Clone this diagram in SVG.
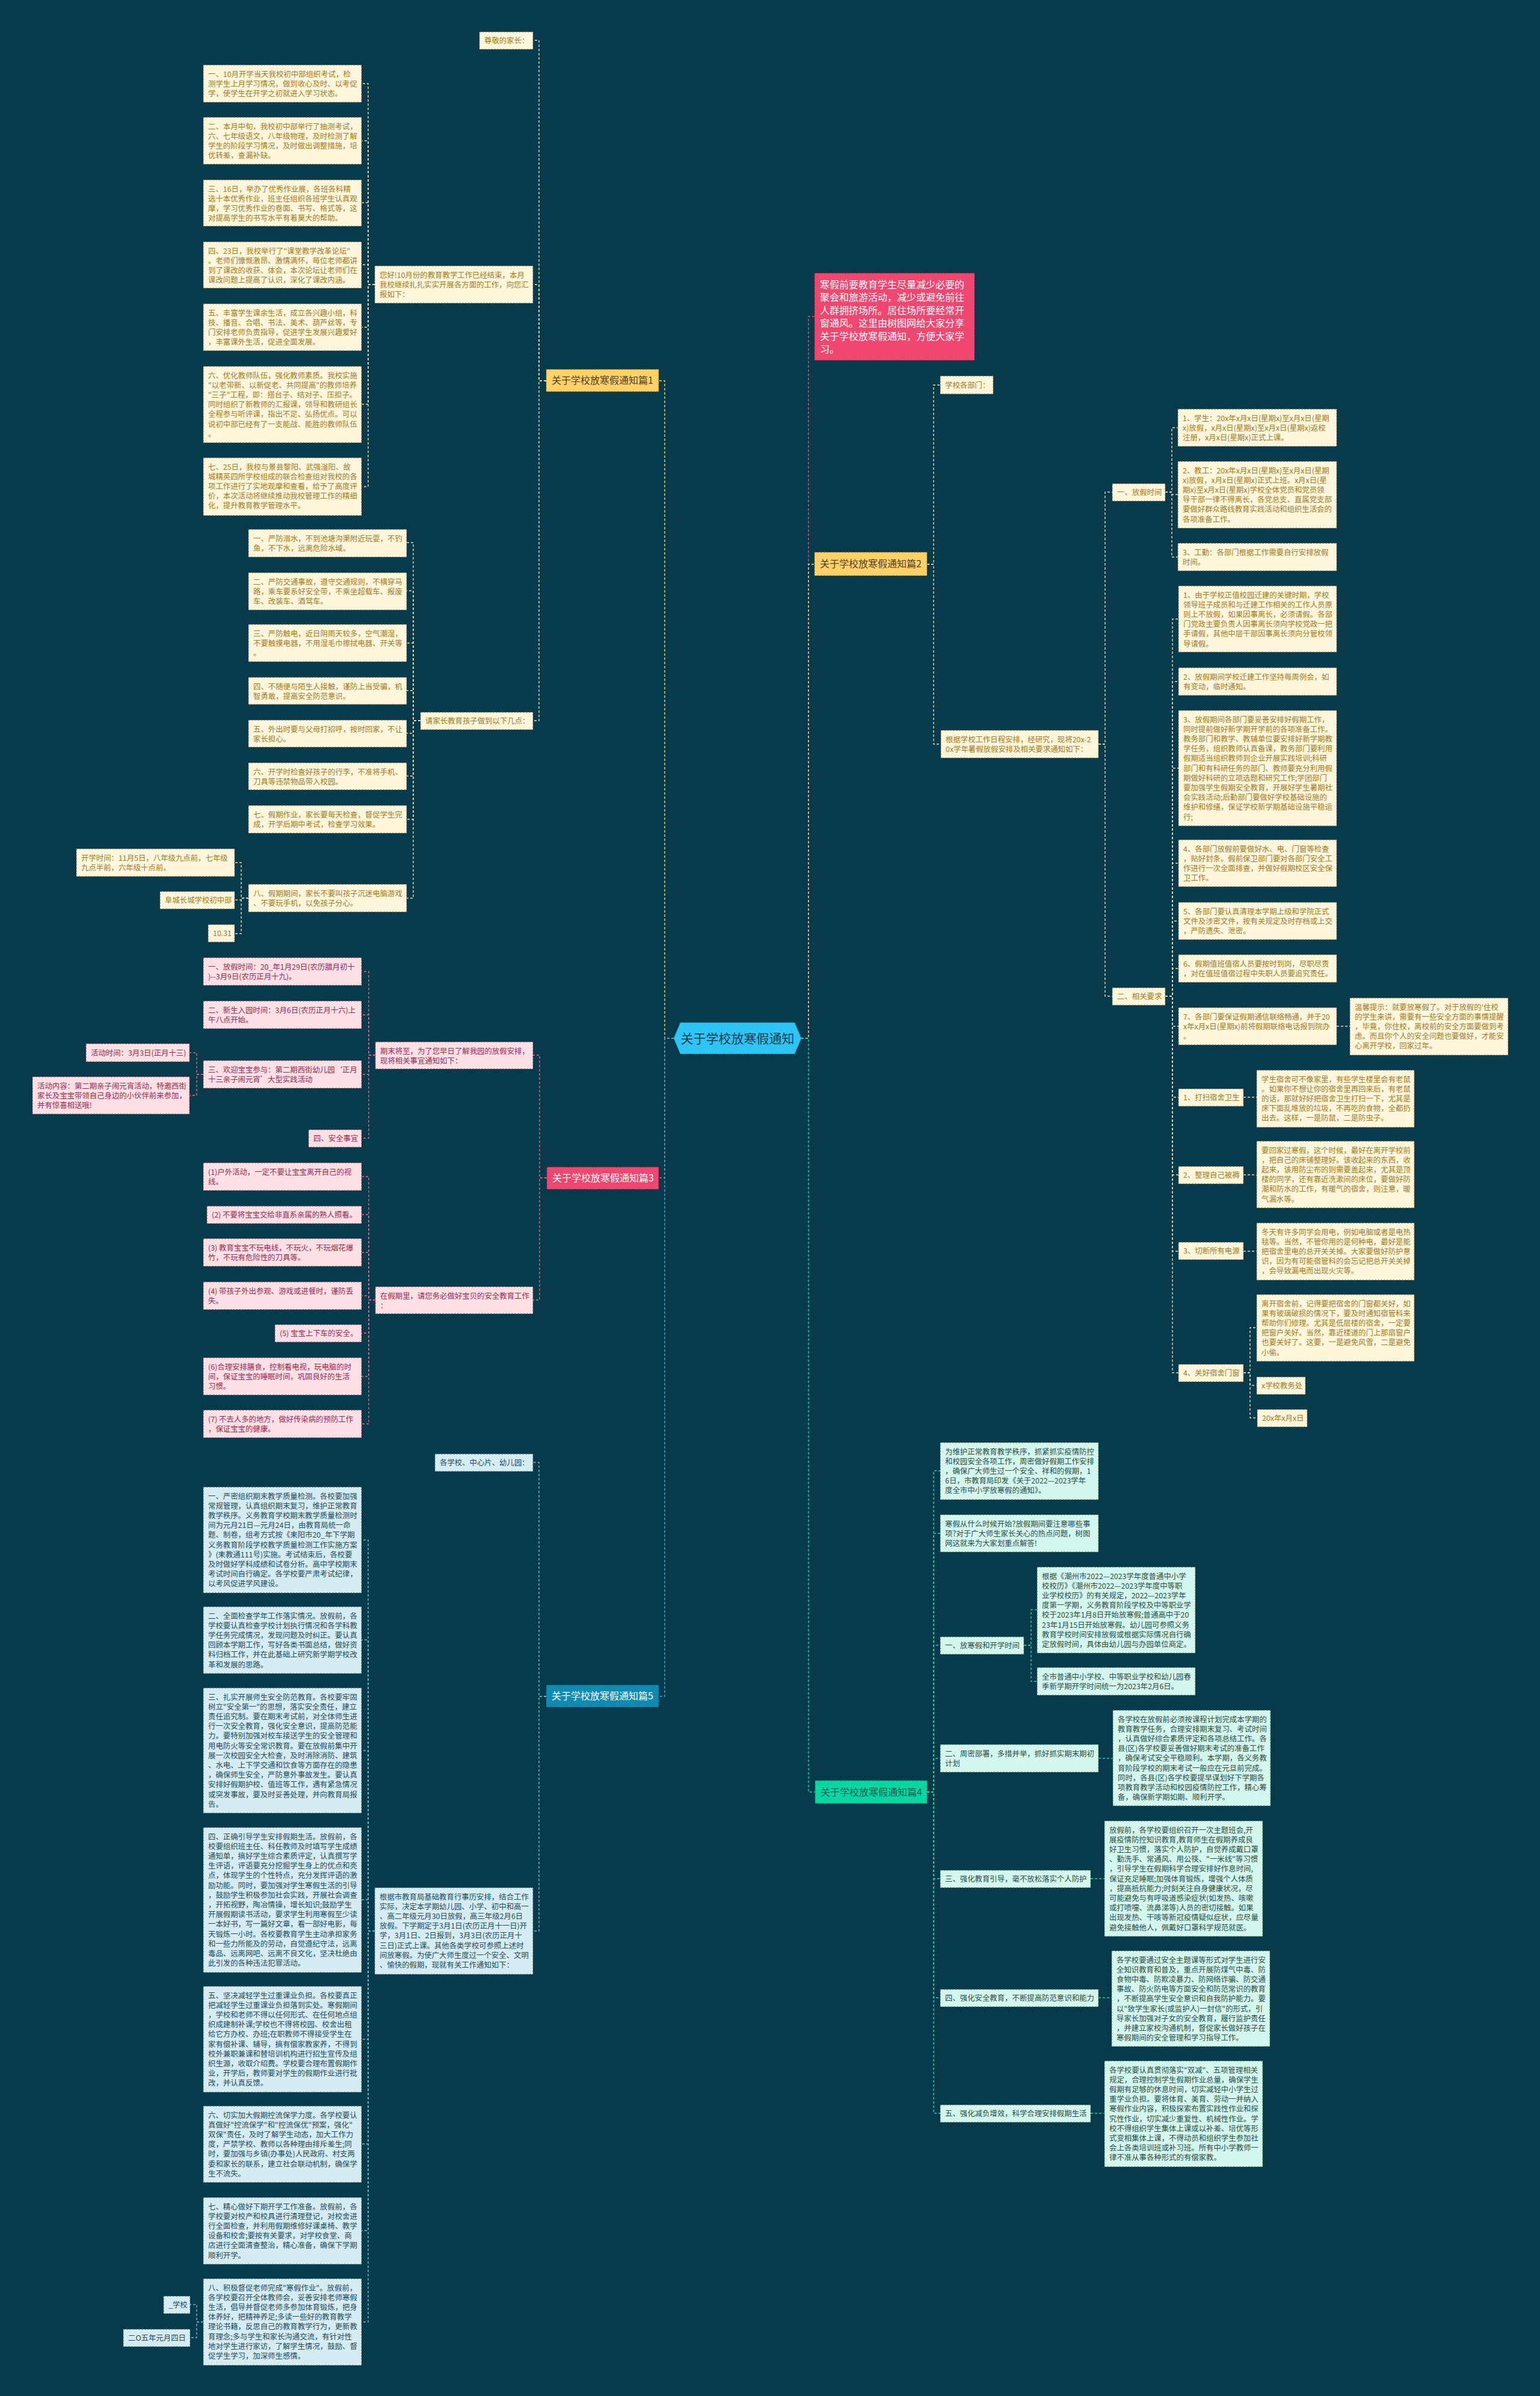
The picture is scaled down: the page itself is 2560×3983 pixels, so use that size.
<svg xmlns="http://www.w3.org/2000/svg" width="2560" height="3983" viewBox="0 0 2560 3983">
<style>
text{font-family:"Noto Sans CJK SC","Noto Sans",sans-serif;font-size:12.4px}
rect{stroke-width:1;stroke-dasharray:3 2}
.c rect{fill:#FFF6DC;stroke:#6e6446}
.c text{fill:#A27A22}
.p rect{fill:#FDDFE6;stroke:#7a4a58}
.p text{fill:#9B2B4B}
.b rect{fill:#D5ECF3;stroke:#4a6470}
.b text{fill:#214B5C}
.m rect{fill:#D4F7ED;stroke:#3f6a60}
.m text{fill:#2A4C45}
.br text{font-size:16px}
.by rect{fill:#FFD166;stroke:#8a6d20}
.by text{fill:#4a4030}
.bp rect{fill:#EF476F;stroke:#8a2040}
.bp text{fill:#ffffff}
.bb rect{fill:#118AB2;stroke:#0a4f66}
.bb text{fill:#ffffff}
.bm rect{fill:#06D6A0;stroke:#067a5c}
.bm text{fill:#1d5c4c}
.lc,.lp,.lb,.lm,.ly,.lpk,.lbl,.ltl{fill:none;stroke-width:1.4;stroke-dasharray:4 3}
.lc{stroke:#EADBA8}
.lp{stroke:#E2668A}
.lb{stroke:#6FB7D2}
.lm{stroke:#33CC9E}
.ly{stroke:#FFD166}
.lpk{stroke:#EF476F}
.lbl{stroke:#3FA7CC}
.ltl{stroke:#06D6A0}
</style>
<rect x="0" y="0" width="2560" height="3983" fill="#073B4C" style="stroke:none"/>

<g id="connectors">
<!-- trunks -->
<path class="ly" d="M1120 1726 H1105 V633 H1095"/>
<path class="lpk" d="M1120 1726 H1105 V1958 H1095"/>
<path class="lbl" d="M1120 1726 H1105 V2820 H1095"/>
<path class="lpk" d="M1332 1726 H1344 V526 H1354"/>
<path class="ly" d="M1332 1726 H1344 V938 H1354"/>
<path class="ltl" d="M1332 1726 H1344 V2979 H1355"/>
<!-- 篇1 -->
<path class="lc" d="M908 633 H896 V67 H886"/>
<path class="lc" d="M908 633 H896 V473 H886"/>
<path class="lc" d="M908 633 H896 V1198 H886"/>
<path class="lc" d="M623 473 H612 V139 H601"/>
<path class="lc" d="M623 473 H612 V234 H601"/>
<path class="lc" d="M623 473 H612 V337 H601"/>
<path class="lc" d="M623 473 H612 V440 H601"/>
<path class="lc" d="M623 473 H612 V544 H601"/>
<path class="lc" d="M623 473 H612 V672 H601"/>
<path class="lc" d="M623 473 H612 V809 H601"/>
<path class="lc" d="M699 1198 H687 V902 H676"/>
<path class="lc" d="M699 1198 H687 V982 H676"/>
<path class="lc" d="M699 1198 H687 V1069 H676"/>
<path class="lc" d="M699 1198 H687 V1148 H676"/>
<path class="lc" d="M699 1198 H687 V1219 H676"/>
<path class="lc" d="M699 1198 H687 V1290 H676"/>
<path class="lc" d="M699 1198 H687 V1362 H676"/>
<path class="lc" d="M699 1198 H687 V1493 H676"/>
<path class="lc" d="M413 1493 H401 V1434 H390"/>
<path class="lc" d="M413 1493 H401 V1496 H390"/>
<path class="lc" d="M413 1493 H401 V1552 H390"/>
<!-- 篇3 -->
<path class="lp" d="M909 1958 H897 V1754 H886"/>
<path class="lp" d="M909 1958 H897 V2161 H886"/>
<path class="lp" d="M624 1754 H613 V1615 H601"/>
<path class="lp" d="M624 1754 H613 V1687 H601"/>
<path class="lp" d="M624 1754 H613 V1786 H601"/>
<path class="lp" d="M624 1754 H613 V1892 H601"/>
<path class="lp" d="M338 1786 H327 V1750 H315"/>
<path class="lp" d="M338 1786 H327 V1821 H315"/>
<path class="lp" d="M624 2161 H613 V1956 H601"/>
<path class="lp" d="M624 2161 H613 V2019 H601"/>
<path class="lp" d="M624 2161 H613 V2082 H601"/>
<path class="lp" d="M624 2161 H613 V2154 H601"/>
<path class="lp" d="M624 2161 H613 V2216 H601"/>
<path class="lp" d="M624 2161 H613 V2288 H601"/>
<path class="lp" d="M624 2161 H613 V2367 H601"/>
<!-- 篇5 -->
<path class="lb" d="M908 2820 H896 V2431 H886"/>
<path class="lb" d="M908 2820 H896 V3210 H886"/>
<path class="lb" d="M623 3210 H612 V2560 H601"/>
<path class="lb" d="M623 3210 H612 V2726 H601"/>
<path class="lb" d="M623 3210 H612 V2910 H601"/>
<path class="lb" d="M623 3210 H612 V3158 H601"/>
<path class="lb" d="M623 3210 H612 V3390 H601"/>
<path class="lb" d="M623 3210 H612 V3564 H601"/>
<path class="lb" d="M623 3210 H612 V3708 H601"/>
<path class="lb" d="M623 3210 H612 V3860 H601"/>
<path class="lb" d="M338 3860 H327 V3831 H316"/>
<path class="lb" d="M338 3860 H327 V3886 H316"/>
<!-- 篇2 -->
<path class="lc" d="M1541 938 H1552 V640 H1563"/>
<path class="lc" d="M1541 938 H1552 V1237 H1564"/>
<path class="lc" d="M1826 1237 H1837 V818 H1849"/>
<path class="lc" d="M1826 1237 H1837 V1656 H1849"/>
<path class="lc" d="M1937 818 H1948 V711 H1958"/>
<path class="lc" d="M1937 818 H1948 V822 H1958"/>
<path class="lc" d="M1937 818 H1948 V926 H1958"/>
<path class="lc" d="M1937 1656 H1949 V1029 H1959"/>
<path class="lc" d="M1937 1656 H1949 V1133 H1959"/>
<path class="lc" d="M1937 1656 H1949 V1277 H1959"/>
<path class="lc" d="M1937 1656 H1949 V1435 H1959"/>
<path class="lc" d="M1937 1656 H1949 V1531 H1959"/>
<path class="lc" d="M1937 1656 H1949 V1610 H1959"/>
<path class="lc" d="M1937 1656 H1949 V1706 H1959"/>
<path class="lc" d="M1937 1656 H1949 V1824 H1959"/>
<path class="lc" d="M1937 1656 H1949 V1953 H1959"/>
<path class="lc" d="M1937 1656 H1949 V2080 H1959"/>
<path class="lc" d="M1937 1656 H1949 V2282 H1959"/>
<path class="lc" d="M2222 1706 H2244"/>
<path class="lc" d="M2067 1824 H2089"/>
<path class="lc" d="M2067 1953 H2089"/>
<path class="lc" d="M2067 2080 H2089"/>
<path class="lc" d="M2067 2282 H2078 V2207 H2089"/>
<path class="lc" d="M2067 2282 H2078 V2303 H2089"/>
<path class="lc" d="M2067 2282 H2078 V2357 H2090"/>
<!-- 篇4 -->
<path class="lm" d="M1541 2979 H1552 V2445 H1563"/>
<path class="lm" d="M1541 2979 H1552 V2549 H1563"/>
<path class="lm" d="M1541 2979 H1552 V2735 H1563"/>
<path class="lm" d="M1541 2979 H1552 V2923 H1563"/>
<path class="lm" d="M1541 2979 H1552 V3123 H1563"/>
<path class="lm" d="M1541 2979 H1552 V3321 H1563"/>
<path class="lm" d="M1541 2979 H1552 V3513 H1563"/>
<path class="lm" d="M1702 2735 H1714 V2676 H1724"/>
<path class="lm" d="M1702 2735 H1714 V2795 H1724"/>
<path class="lm" d="M1826 2923 H1850"/>
<path class="lm" d="M1813 3123 H1836"/>
<path class="lm" d="M1826 3321 H1848"/>
<path class="lm" d="M1813 3513 H1836"/>
</g>

<!-- hub -->
<g id="hub">
<polygon points="1131,1700 1321,1700 1332,1726 1321,1752 1131,1752 1120,1726" fill="#2CC5F4" stroke="#1a8fb5" stroke-width="1" stroke-dasharray="3 2"/>
<text x="1226" y="1733.5" text-anchor="middle" style="font-size:21px;fill:#1d3a4a">关于学校放寒假通知</text>
</g>

<!-- 篇1 -->
<g id="p1" class="br by"><rect x="908" y="614" width="187" height="37"/><text x="917" y="638">关于学校放寒假通知篇1</text></g>
<g id="n-zjjz" class="c"><rect x="797" y="53" width="89" height="29"/><text x="805" y="72">尊敬的家长：</text></g>
<g id="n-nh" class="c"><rect x="623" y="442" width="263" height="62"/><text x="631" y="461.5"><tspan x="631">您好!10月份的教育教学工作已经结束，本月</tspan><tspan x="631" dy="16.2">我校继续扎扎实实开展各方面的工作，向您汇</tspan><tspan x="631" dy="16.2">报如下：</tspan></text></g>
<g id="n-p1-1" class="c"><rect x="338" y="108" width="263" height="62"/><text x="346" y="127.5"><tspan x="346">一、10月开学当天我校初中部组织考试，检</tspan><tspan x="346" dy="16.2">测学生上月学习情况，做到收心及时、以考促</tspan><tspan x="346" dy="16.2">学，使学生在开学之初就进入学习状态。</tspan></text></g>
<g id="n-p1-2" class="c"><rect x="338" y="195" width="263" height="78"/><text x="346" y="214.5"><tspan x="346">二、本月中旬，我校初中部举行了抽测考试，</tspan><tspan x="346" dy="16.2">六、七年级语文，八年级物理，及时检测了解</tspan><tspan x="346" dy="16.2">学生的阶段学习情况，及时做出调整措施，培</tspan><tspan x="346" dy="16.2">优转差，查漏补缺。</tspan></text></g>
<g id="n-p1-3" class="c"><rect x="338" y="299" width="263" height="77"/><text x="346" y="318.5"><tspan x="346">三、16日，举办了优秀作业展，各班各科精</tspan><tspan x="346" dy="16.2">选十本优秀作业，班主任组织各班学生认真观</tspan><tspan x="346" dy="16.2">摩，学习优秀作业的卷面、书写、格式等，这</tspan><tspan x="346" dy="16.2">对提高学生的书写水平有着莫大的帮助。</tspan></text></g>
<g id="n-p1-4" class="c"><rect x="338" y="402" width="263" height="77"/><text x="346" y="421.5"><tspan x="346">四、23日，我校举行了"课堂教学改革论坛"</tspan><tspan x="346" dy="16.2">。老师们慷慨激昂、激情满怀，每位老师都讲</tspan><tspan x="346" dy="16.2">到了课改的收获、体会，本次论坛让老师们在</tspan><tspan x="346" dy="16.2">课改问题上提高了认识，深化了课改内涵。</tspan></text></g>
<g id="n-p1-5" class="c"><rect x="338" y="505" width="263" height="78"/><text x="346" y="524.5"><tspan x="346">五、丰富学生课余生活，成立各兴趣小组，科</tspan><tspan x="346" dy="16.2">技、播音、合唱、书法、美术、葫芦丝等，专</tspan><tspan x="346" dy="16.2">门安排老师负责指导，促进学生发展兴趣爱好</tspan><tspan x="346" dy="16.2">，丰富课外生活，促进全面发展。</tspan></text></g>
<g id="n-p1-6" class="c"><rect x="338" y="609" width="263" height="127"/><text x="346" y="628.5"><tspan x="346">六、优化教师队伍，强化教师素质。我校实施</tspan><tspan x="346" dy="16.2">"以老带新、以新促老、共同提高"的教师培养</tspan><tspan x="346" dy="16.2">"三子"工程，即：搭台子、结对子、压担子。</tspan><tspan x="346" dy="16.2">同时组织了新教师的汇报课，领导和教研组长</tspan><tspan x="346" dy="16.2">全程参与听评课，指出不足、弘扬优点。可以</tspan><tspan x="346" dy="16.2">说初中部已经有了一支能战、能胜的教师队伍</tspan><tspan x="346" dy="16.2">。</tspan></text></g>
<g id="n-p1-7" class="c"><rect x="338" y="761" width="263" height="96"/><text x="346" y="780.5"><tspan x="346">七、25日，我校与景县黎阳、武强滏阳、故</tspan><tspan x="346" dy="16.2">城精英四所学校组成的联合检查组对我校的各</tspan><tspan x="346" dy="16.2">项工作进行了实地观摩和查看，给予了高度评</tspan><tspan x="346" dy="16.2">价，本次活动将继续推动我校管理工作的精细</tspan><tspan x="346" dy="16.2">化，提升教育教学管理水平。</tspan></text></g>
<g id="n-qjz" class="c"><rect x="699" y="1184" width="187" height="29"/><text x="707" y="1203">请家长教育孩子做到以下几点：</text></g>
<g id="n-s1" class="c"><rect x="413" y="880" width="263" height="46"/><text x="421" y="899.5"><tspan x="421">一、严防溺水，不到池塘沟渠附近玩耍，不钓</tspan><tspan x="421" dy="16.2">鱼，不下水，远离危险水域。</tspan></text></g>
<g id="n-s2" class="c"><rect x="413" y="952" width="263" height="62"/><text x="421" y="971.5"><tspan x="421">二、严防交通事故，遵守交通规则，不横穿马</tspan><tspan x="421" dy="16.2">路，乘车要系好安全带，不乘坐超载车、报废</tspan><tspan x="421" dy="16.2">车、改装车、酒驾车。</tspan></text></g>
<g id="n-s3" class="c"><rect x="413" y="1038" width="263" height="62"/><text x="421" y="1057.5"><tspan x="421">三、严防触电，近日阴雨天较多，空气潮湿，</tspan><tspan x="421" dy="16.2">不要触摸电器，不用湿毛巾擦拭电器、开关等</tspan><tspan x="421" dy="16.2">。</tspan></text></g>
<g id="n-s4" class="c"><rect x="413" y="1126" width="263" height="45"/><text x="421" y="1145.5"><tspan x="421">四、不随便与陌生人接触，谨防上当受骗，机</tspan><tspan x="421" dy="16.2">智勇敢，提高安全防范意识。</tspan></text></g>
<g id="n-s5" class="c"><rect x="413" y="1197" width="263" height="45"/><text x="421" y="1216.5"><tspan x="421">五、外出时要与父母打招呼，按时回家，不让</tspan><tspan x="421" dy="16.2">家长担心。</tspan></text></g>
<g id="n-s6" class="c"><rect x="413" y="1268" width="263" height="45"/><text x="421" y="1287.5"><tspan x="421">六、开学时检查好孩子的行李，不准将手机、</tspan><tspan x="421" dy="16.2">刀具等违禁物品带入校园。</tspan></text></g>
<g id="n-s7" class="c"><rect x="413" y="1339" width="263" height="46"/><text x="421" y="1358.5"><tspan x="421">七、假期作业，家长要每天检查，督促学生完</tspan><tspan x="421" dy="16.2">成，开学后期中考试，检查学习效果。</tspan></text></g>
<g id="n-s8" class="c"><rect x="413" y="1470" width="263" height="46"/><text x="421" y="1489.5"><tspan x="421">八、假期期间，家长不要叫孩子沉迷电脑游戏</tspan><tspan x="421" dy="16.2">、不要玩手机，以免孩子分心。</tspan></text></g>
<g id="n-kx" class="c"><rect x="127" y="1411" width="263" height="46"/><text x="135" y="1430.5"><tspan x="135">开学时间：11月5日，八年级九点前，七年级</tspan><tspan x="135" dy="16.2">九点半前，六年级十点前。</tspan></text></g>
<g id="n-fc" class="c"><rect x="266" y="1482" width="124" height="29"/><text x="274" y="1501">阜城长城学校初中部</text></g>
<g id="n-d1031" class="c"><rect x="346" y="1537" width="44" height="29"/><text x="354" y="1556">10.31</text></g>

<!-- 篇3 -->
<g id="p3" class="br bp"><rect x="909" y="1940" width="186" height="37"/><text x="918" y="1964">关于学校放寒假通知篇3</text></g>
<g id="n-qmjz" class="p"><rect x="624" y="1732" width="262" height="45"/><text x="632" y="1751.5"><tspan x="632">期末将至，为了您早日了解我园的放假安排，</tspan><tspan x="632" dy="16.2">现将相关事宜通知如下：</tspan></text></g>
<g id="n-a1" class="p"><rect x="338" y="1592" width="263" height="46"/><text x="346" y="1611.5"><tspan x="346">一、放假时间：20_年1月29日(农历腊月初十</tspan><tspan x="346" dy="16.2">)--3月9日(农历正月十九)。</tspan></text></g>
<g id="n-a2" class="p"><rect x="338" y="1664" width="263" height="46"/><text x="346" y="1683.5"><tspan x="346">二、新生入园时间：3月6日(农历正月十六)上</tspan><tspan x="346" dy="16.2">午八点开始。</tspan></text></g>
<g id="n-a3" class="p"><rect x="338" y="1763" width="263" height="46"/><text x="346" y="1782.5"><tspan x="346">三、欢迎宝宝参与：第二期西街幼儿园‘正月</tspan><tspan x="346" dy="16.2">十三亲子闹元宵’大型实践活动</tspan></text></g>
<g id="n-a4" class="p"><rect x="513" y="1878" width="88" height="29"/><text x="521" y="1897">四、安全事宜</text></g>
<g id="n-hd1" class="p"><rect x="143" y="1735" width="172" height="30"/><text x="151" y="1754.5">活动时间：3月3日(正月十三)</text></g>
<g id="n-hd2" class="p"><rect x="54" y="1790" width="261" height="62"/><text x="62" y="1809.5"><tspan x="62">活动内容：第二期亲子闹元宵活动，特邀西街</tspan><tspan x="62" dy="16.2">家长及宝宝带领自己身边的小伙伴前来参加，</tspan><tspan x="62" dy="16.2">并有惊喜相送哦!</tspan></text></g>
<g id="n-zjql" class="p"><rect x="624" y="2139" width="262" height="45"/><text x="632" y="2158.5"><tspan x="632">在假期里，请您务必做好宝贝的安全教育工作</tspan><tspan x="632" dy="16.2">：</tspan></text></g>
<g id="n-b1" class="p"><rect x="338" y="1933" width="263" height="46"/><text x="346" y="1952.5"><tspan x="346">(1)户外活动，一定不要让宝宝离开自己的视</tspan><tspan x="346" dy="16.2">线。</tspan></text></g>
<g id="n-b2" class="p"><rect x="344" y="2005" width="257" height="29"/><text x="352" y="2024">(2) 不要将宝宝交给非直系亲属的熟人照看。</text></g>
<g id="n-b3" class="p"><rect x="338" y="2059" width="263" height="46"/><text x="346" y="2078.5"><tspan x="346">(3) 教育宝宝不玩电线，不玩火，不玩烟花爆</tspan><tspan x="346" dy="16.2">竹，不玩有危险性的刀具等。</tspan></text></g>
<g id="n-b4" class="p"><rect x="338" y="2131" width="263" height="46"/><text x="346" y="2150.5"><tspan x="346">(4) 带孩子外出参观、游戏或进餐时，谨防丢</tspan><tspan x="346" dy="16.2">失。</tspan></text></g>
<g id="n-b5" class="p"><rect x="457" y="2202" width="144" height="29"/><text x="465" y="2221">(5) 宝宝上下车的安全。</text></g>
<g id="n-b6" class="p"><rect x="338" y="2257" width="263" height="62"/><text x="346" y="2276.5"><tspan x="346">(6)合理安排膳食，控制看电视，玩电脑的时</tspan><tspan x="346" dy="16.2">间，保证宝宝的睡眠时间，巩固良好的生活</tspan><tspan x="346" dy="16.2">习惯。</tspan></text></g>
<g id="n-b7" class="p"><rect x="338" y="2344" width="263" height="46"/><text x="346" y="2363.5"><tspan x="346">(7) 不去人多的地方，做好传染病的预防工作</tspan><tspan x="346" dy="16.2">，保证宝宝的健康。</tspan></text></g>

<!-- 篇5 -->
<g id="p5" class="br bb"><rect x="908" y="2801" width="187" height="37"/><text x="917" y="2825">关于学校放寒假通知篇5</text></g>
<g id="n-gxx" class="b"><rect x="723" y="2417" width="163" height="29"/><text x="731" y="2436">各学校、中心片、幼儿园：</text></g>
<g id="n-gjs" class="b"><rect x="623" y="3138" width="263" height="144"/><text x="631" y="3157.5"><tspan x="631">根据市教育局基础教育行事历安排，结合工作</tspan><tspan x="631" dy="16.2">实际，决定本学期幼儿园、小学、初中和高一</tspan><tspan x="631" dy="16.2">、高二年级元月30日放假，高三年级2月6日</tspan><tspan x="631" dy="16.2">放假。下学期定于3月1日(农历正月十一日)开</tspan><tspan x="631" dy="16.2">学，3月1日、2日报到，3月3日(农历正月十</tspan><tspan x="631" dy="16.2">三日)正式上课。其他各类学校可参照上述时</tspan><tspan x="631" dy="16.2">间放寒假。为使广大师生度过一个安全、文明</tspan><tspan x="631" dy="16.2">、愉快的假期，现就有关工作通知如下：</tspan></text></g>
<g id="n-c1" class="b"><rect x="338" y="2472" width="263" height="176"/><text x="346" y="2491.5"><tspan x="346">一、严密组织期末教学质量检测。各校要加强</tspan><tspan x="346" dy="16.2">常规管理，认真组织期末复习，维护正常教育</tspan><tspan x="346" dy="16.2">教学秩序。义务教育学校期末教学质量检测时</tspan><tspan x="346" dy="16.2">间为元月21日—元月24日，由教育局统一命</tspan><tspan x="346" dy="16.2">题、制卷，组考方式按《耒阳市20_年下学期</tspan><tspan x="346" dy="16.2">义务教育阶段学校教学质量检测工作实施方案</tspan><tspan x="346" dy="16.2">》(耒教通111号)实施。考试结束后，各校要</tspan><tspan x="346" dy="16.2">及时做好学科成绩和试卷分析。高中学校期末</tspan><tspan x="346" dy="16.2">考试时间自行确定。各学校要严肃考试纪律，</tspan><tspan x="346" dy="16.2">以考风促进学风建设。</tspan></text></g>
<g id="n-c2" class="b"><rect x="338" y="2671" width="263" height="111"/><text x="346" y="2690.5"><tspan x="346">二、全面检查学年工作落实情况。放假前，各</tspan><tspan x="346" dy="16.2">学校要认真检查学校计划执行情况和各学科教</tspan><tspan x="346" dy="16.2">学任务完成情况，发现问题及时纠正。要认真</tspan><tspan x="346" dy="16.2">回顾本学期工作，写好各类书面总结，做好资</tspan><tspan x="346" dy="16.2">料归档工作，并在此基础上研究新学期学校改</tspan><tspan x="346" dy="16.2">革和发展的思路。</tspan></text></g>
<g id="n-c3" class="b"><rect x="338" y="2806" width="263" height="208"/><text x="346" y="2825.5"><tspan x="346">三、扎实开展师生安全防范教育。各校要牢固</tspan><tspan x="346" dy="16.2">树立"安全第一"的思想，落实安全责任，建立</tspan><tspan x="346" dy="16.2">责任追究制。要在期末考试前，对全体师生进</tspan><tspan x="346" dy="16.2">行一次安全教育，强化安全意识，提高防范能</tspan><tspan x="346" dy="16.2">力。要特别加强对校车接送学生的安全管理和</tspan><tspan x="346" dy="16.2">用电防火等安全常识教育。要在放假前集中开</tspan><tspan x="346" dy="16.2">展一次校园安全大检查，及时消除消防、建筑</tspan><tspan x="346" dy="16.2">、水电、上下学交通和饮食等方面存在的隐患</tspan><tspan x="346" dy="16.2">，确保师生安全，严防意外事故发生。要认真</tspan><tspan x="346" dy="16.2">安排好假期护校、值班等工作，遇有紧急情况</tspan><tspan x="346" dy="16.2">或突发事故，要及时妥善处理，并向教育局报</tspan><tspan x="346" dy="16.2">告。</tspan></text></g>
<g id="n-c4" class="b"><rect x="338" y="3038" width="263" height="241"/><text x="346" y="3057.5"><tspan x="346">四、正确引导学生安排假期生活。放假前，各</tspan><tspan x="346" dy="16.2">校要组织班主任、科任教师及时填写学生成绩</tspan><tspan x="346" dy="16.2">通知单，搞好学生综合素质评定，认真撰写学</tspan><tspan x="346" dy="16.2">生评语，评语要充分挖掘学生身上的优点和亮</tspan><tspan x="346" dy="16.2">点，体现学生的个性特点，充分发挥评语的激</tspan><tspan x="346" dy="16.2">励功能。同时，要加强对学生寒假生活的引导</tspan><tspan x="346" dy="16.2">，鼓励学生积极参加社会实践，开展社会调查</tspan><tspan x="346" dy="16.2">，开拓视野，陶冶情操，增长知识;鼓励学生</tspan><tspan x="346" dy="16.2">开展假期读书活动，要求学生利用寒假至少读</tspan><tspan x="346" dy="16.2">一本好书，写一篇好文章，看一部好电影，每</tspan><tspan x="346" dy="16.2">天锻炼一小时。各校要教育学生主动承担家务</tspan><tspan x="346" dy="16.2">和一些力所能及的劳动，自觉遵纪守法，远离</tspan><tspan x="346" dy="16.2">毒品、远离网吧、远离不良文化，坚决杜绝由</tspan><tspan x="346" dy="16.2">此引发的各种违法犯罪活动。</tspan></text></g>
<g id="n-c5" class="b"><rect x="338" y="3302" width="263" height="176"/><text x="346" y="3321.5"><tspan x="346">五、坚决减轻学生过重课业负担。各校要真正</tspan><tspan x="346" dy="16.2">把减轻学生过重课业负担落到实处。寒假期间</tspan><tspan x="346" dy="16.2">，学校和老师不得以任何形式、在任何地点组</tspan><tspan x="346" dy="16.2">织成建制补课;学校也不得将校园、校舍出租</tspan><tspan x="346" dy="16.2">给它方办校、办班;在职教师不得接受学生在</tspan><tspan x="346" dy="16.2">家有偿补课、辅导，搞有偿家教家养，不得到</tspan><tspan x="346" dy="16.2">校外兼职兼课和替培训机构进行招生宣传及组</tspan><tspan x="346" dy="16.2">织生源，收取介绍费。学校要合理布置假期作</tspan><tspan x="346" dy="16.2">业，开学后，教师要对学生的假期作业进行批</tspan><tspan x="346" dy="16.2">改，并认真反馈。</tspan></text></g>
<g id="n-c6" class="b"><rect x="338" y="3501" width="263" height="127"/><text x="346" y="3520.5"><tspan x="346">六、切实加大假期控流保学力度。各学校要认</tspan><tspan x="346" dy="16.2">真做好"控流保学"和"控流保优"预案，强化"</tspan><tspan x="346" dy="16.2">双保"责任，及时了解学生动态，加大工作力</tspan><tspan x="346" dy="16.2">度，严禁学校、教师以各种理由排斥差生;同</tspan><tspan x="346" dy="16.2">时，要加强与乡镇(办事处)人民政府、村支两</tspan><tspan x="346" dy="16.2">委和家长的联系，建立社会联动机制，确保学</tspan><tspan x="346" dy="16.2">生不流失。</tspan></text></g>
<g id="n-c7" class="b"><rect x="338" y="3653" width="263" height="111"/><text x="346" y="3672.5"><tspan x="346">七、精心做好下期开学工作准备。放假前，各</tspan><tspan x="346" dy="16.2">学校要对校产和校具进行清理登记，对校舍进</tspan><tspan x="346" dy="16.2">行全面检查，并利用假期维修好课桌椅、教学</tspan><tspan x="346" dy="16.2">设备和校舍;要按有关要求，对学校食堂、商</tspan><tspan x="346" dy="16.2">店进行全面清查整治，精心准备，确保下学期</tspan><tspan x="346" dy="16.2">顺利开学。</tspan></text></g>
<g id="n-c8" class="b"><rect x="338" y="3788" width="263" height="144"/><text x="346" y="3807.5"><tspan x="346">八、积极督促老师完成"寒假作业"。放假前，</tspan><tspan x="346" dy="16.2">各学校要召开全体教师会，妥善安排老师寒假</tspan><tspan x="346" dy="16.2">生活，倡导并督促老师多参加体育锻炼，把身</tspan><tspan x="346" dy="16.2">体养好，把精神养足;多读一些好的教育教学</tspan><tspan x="346" dy="16.2">理论书籍，反思自己的教育教学行为，更新教</tspan><tspan x="346" dy="16.2">育理念;多与学生和家长沟通交流，有针对性</tspan><tspan x="346" dy="16.2">地对学生进行家访，了解学生情况，鼓励、督</tspan><tspan x="346" dy="16.2">促学生学习，加深师生感情。</tspan></text></g>
<g id="n-xx" class="b"><rect x="272" y="3817" width="44" height="29"/><text x="280" y="3836">_学校</text></g>
<g id="n-rq" class="b"><rect x="205" y="3872" width="111" height="29"/><text x="213" y="3891">二O五年元月四日</text></g>

<!-- intro -->
<g id="intro" class="bp"><rect x="1354" y="454" width="266" height="145"/><text x="1363" y="479" style="font-size:16px"><tspan x="1363">寒假前要教育学生尽量减少必要的</tspan><tspan x="1363" dy="21.4">聚会和旅游活动，减少或避免前往</tspan><tspan x="1363" dy="21.4">人群拥挤场所。居住场所要经常开</tspan><tspan x="1363" dy="21.4">窗通风。这里由树图网给大家分享</tspan><tspan x="1363" dy="21.4">关于学校放寒假通知，方便大家学</tspan><tspan x="1363" dy="21.4">习。</tspan></text></g>

<!-- 篇2 -->
<g id="p2" class="br by"><rect x="1354" y="918" width="187" height="39"/><text x="1363" y="943">关于学校放寒假通知篇2</text></g>
<g id="n-xbm" class="c"><rect x="1563" y="625" width="88" height="30"/><text x="1571" y="644.5">学校各部门：</text></g>
<g id="n-gjxx" class="c"><rect x="1564" y="1214" width="262" height="46"/><text x="1572" y="1233.5"><tspan x="1572">根据学校工作日程安排，经研究，现将20x-2</tspan><tspan x="1572" dy="16.2">0x学年暑假放假安排及相关要求通知如下：</tspan></text></g>
<g id="n-fjsj" class="c"><rect x="1849" y="804" width="88" height="29"/><text x="1857" y="823">一、放假时间</text></g>
<g id="n-xgyq" class="c"><rect x="1849" y="1642" width="88" height="29"/><text x="1857" y="1661">二、相关要求</text></g>
<g id="n-r1" class="c"><rect x="1958" y="680" width="264" height="62"/><text x="1966" y="699.5"><tspan x="1966">1、学生：20x年x月x日(星期x)至x月x日(星期</tspan><tspan x="1966" dy="16.2">x)放假，x月x日(星期x)至x月x日(星期x)返校</tspan><tspan x="1966" dy="16.2">注册，x月x日(星期x)正式上课。</tspan></text></g>
<g id="n-r2" class="c"><rect x="1958" y="767" width="264" height="111"/><text x="1966" y="786.5"><tspan x="1966">2、教工：20x年x月x日(星期x)至x月x日(星期</tspan><tspan x="1966" dy="16.2">x)放假，x月x日(星期x)正式上班。x月x日(星</tspan><tspan x="1966" dy="16.2">期x)至x月x日(星期x)学校全体党员和党员领</tspan><tspan x="1966" dy="16.2">导干部一律不得离长，各党总支、直属党支部</tspan><tspan x="1966" dy="16.2">要做好群众路线教育实践活动和组织生活会的</tspan><tspan x="1966" dy="16.2">各项准备工作。</tspan></text></g>
<g id="n-r3" class="c"><rect x="1958" y="903" width="264" height="46"/><text x="1966" y="922.5"><tspan x="1966">3、工勤：各部门根据工作需要自行安排放假</tspan><tspan x="1966" dy="16.2">时间。</tspan></text></g>
<g id="n-q1" class="c"><rect x="1959" y="974" width="263" height="110"/><text x="1967" y="993.5"><tspan x="1967">1、由于学校正值校园迁建的关键时期，学校</tspan><tspan x="1967" dy="16.2">领导班子成员和与迁建工作相关的工作人员原</tspan><tspan x="1967" dy="16.2">则上不放假，如果因事离长，必须请假。各部</tspan><tspan x="1967" dy="16.2">门党政主要负责人因事离长须向学校党政一把</tspan><tspan x="1967" dy="16.2">手请假，其他中层干部因事离长须向分管校领</tspan><tspan x="1967" dy="16.2">导请假。</tspan></text></g>
<g id="n-q2" class="c"><rect x="1959" y="1110" width="263" height="46"/><text x="1967" y="1129.5"><tspan x="1967">2、放假期间学校迁建工作坚持每周例会，如</tspan><tspan x="1967" dy="16.2">有变动，临时通知。</tspan></text></g>
<g id="n-q3" class="c"><rect x="1959" y="1181" width="263" height="192"/><text x="1967" y="1200.5"><tspan x="1967">3、放假期间各部门要妥善安排好假期工作，</tspan><tspan x="1967" dy="16.2">同时提前做好新学期开学前的各项准备工作。</tspan><tspan x="1967" dy="16.2">教务部门和教学、教辅单位要安排好新学期教</tspan><tspan x="1967" dy="16.2">学任务，组织教师认真备课，教务部门要利用</tspan><tspan x="1967" dy="16.2">假期适当组织教师到企业开展实践培训;科研</tspan><tspan x="1967" dy="16.2">部门和有科研任务的部门、教师要充分利用假</tspan><tspan x="1967" dy="16.2">期做好科研的立项选题和研究工作;学团部门</tspan><tspan x="1967" dy="16.2">要加强学生假期安全教育，开展好学生暑期社</tspan><tspan x="1967" dy="16.2">会实践活动;后勤部门要做好学校基础设施的</tspan><tspan x="1967" dy="16.2">维护和修缮，保证学校新学期基础设施平稳运</tspan><tspan x="1967" dy="16.2">行;</tspan></text></g>
<g id="n-q4" class="c"><rect x="1959" y="1396" width="263" height="78"/><text x="1967" y="1415.5"><tspan x="1967">4、各部门放假前要做好水、电、门窗等检查</tspan><tspan x="1967" dy="16.2">，贴好封条。假前保卫部门要对各部门安全工</tspan><tspan x="1967" dy="16.2">作进行一次全面排查，并做好假期校区安全保</tspan><tspan x="1967" dy="16.2">卫工作。</tspan></text></g>
<g id="n-q5" class="c"><rect x="1959" y="1500" width="263" height="62"/><text x="1967" y="1519.5"><tspan x="1967">5、各部门要认真清理本学期上级和学院正式</tspan><tspan x="1967" dy="16.2">文件及涉密文件，按有关规定及时存档或上交</tspan><tspan x="1967" dy="16.2">，严防遗失、泄密。</tspan></text></g>
<g id="n-q6" class="c"><rect x="1959" y="1587" width="263" height="46"/><text x="1967" y="1606.5"><tspan x="1967">6、假期值班值宿人员要按时到岗，尽职尽责</tspan><tspan x="1967" dy="16.2">，对在值班值宿过程中失职人员要追究责任。</tspan></text></g>
<g id="n-q7" class="c"><rect x="1959" y="1675" width="263" height="62"/><text x="1967" y="1694.5"><tspan x="1967">7、各部门要保证假期通信联络畅通，并于20</tspan><tspan x="1967" dy="16.2">x年x月x日(星期x)前将假期联络电话报到院办</tspan><tspan x="1967" dy="16.2">。</tspan></text></g>
<g id="n-wx" class="c"><rect x="2244" y="1659" width="263" height="95"/><text x="2252" y="1678.5"><tspan x="2252">温馨提示：就要放寒假了。对于放假的'住校</tspan><tspan x="2252" dy="16.2">的学生来讲，需要有一些安全方面的事情提醒</tspan><tspan x="2252" dy="16.2">，毕竟，你住校，离校前的安全方面要做到考</tspan><tspan x="2252" dy="16.2">虑。而且你个人的安全问题也要做好，才能安</tspan><tspan x="2252" dy="16.2">心离开学校，回家过年。</tspan></text></g>
<g id="n-ds1" class="c"><rect x="1959" y="1810" width="108" height="29"/><text x="1967" y="1829">1、打扫宿舍卫生</text></g>
<g id="n-ds1c" class="c"><rect x="2089" y="1779" width="262" height="95"/><text x="2097" y="1798.5"><tspan x="2097">学生宿舍可不像家里，有些学生楼里会有老鼠</tspan><tspan x="2097" dy="16.2">。如果你不想让你的宿舍里再回来后，有老鼠</tspan><tspan x="2097" dy="16.2">的话，那就好好把宿舍卫生打扫一下，尤其是</tspan><tspan x="2097" dy="16.2">床下面乱堆放的垃圾，不再吃的食物，全都扔</tspan><tspan x="2097" dy="16.2">出去。这样，一是防鼠，二是防虫子。</tspan></text></g>
<g id="n-ds2" class="c"><rect x="1959" y="1939" width="108" height="29"/><text x="1967" y="1958">2、整理自己被褥</text></g>
<g id="n-ds2c" class="c"><rect x="2089" y="1897" width="262" height="111"/><text x="2097" y="1916.5"><tspan x="2097">要回家过寒假，这个时候，最好在离开学校前</tspan><tspan x="2097" dy="16.2">，把自己的床铺整理好。该收起来的东西，收</tspan><tspan x="2097" dy="16.2">起来，该用防尘布的则需要盖起来，尤其是顶</tspan><tspan x="2097" dy="16.2">楼的同学，还有靠近洗漱间的床位，要做好防</tspan><tspan x="2097" dy="16.2">潮和防水的工作，有暖气的宿舍，则注意，暖</tspan><tspan x="2097" dy="16.2">气漏水等。</tspan></text></g>
<g id="n-ds3" class="c"><rect x="1959" y="2065" width="108" height="29"/><text x="1967" y="2084">3、切断所有电源</text></g>
<g id="n-ds3c" class="c"><rect x="2089" y="2033" width="262" height="95"/><text x="2097" y="2052.5"><tspan x="2097">冬天有许多同学会用电，例如电脑或者是电热</tspan><tspan x="2097" dy="16.2">毯等。当然，不管你用的是何种电，最好是能</tspan><tspan x="2097" dy="16.2">把宿舍里电的总开关关掉。大家要做好防护意</tspan><tspan x="2097" dy="16.2">识，因为有可能宿管科的会忘记把总开关关掉</tspan><tspan x="2097" dy="16.2">，会导致漏电而出现火灾等。</tspan></text></g>
<g id="n-ds4" class="c"><rect x="1959" y="2268" width="108" height="29"/><text x="1967" y="2287">4、关好宿舍门窗</text></g>
<g id="n-ds4c" class="c"><rect x="2089" y="2152" width="262" height="111"/><text x="2097" y="2171.5"><tspan x="2097">离开宿舍前，记得要把宿舍的门窗都关好，如</tspan><tspan x="2097" dy="16.2">果有玻璃破损的情况下，要及时通知宿管科来</tspan><tspan x="2097" dy="16.2">帮助你们修理。尤其是低层楼的宿舍，一定要</tspan><tspan x="2097" dy="16.2">把窗户关好。当然，靠近楼道的门上那扇窗户</tspan><tspan x="2097" dy="16.2">也要关好了。这要，一是避免风雪，二是避免</tspan><tspan x="2097" dy="16.2">小偷。</tspan></text></g>
<g id="n-jwc" class="c"><rect x="2089" y="2289" width="81" height="29"/><text x="2097" y="2308">x学校教务处</text></g>
<g id="n-rq2" class="c"><rect x="2090" y="2343" width="83" height="29"/><text x="2098" y="2362">20x年x月x日</text></g>

<!-- 篇4 -->
<g id="p4" class="br bm"><rect x="1355" y="2960" width="186" height="38"/><text x="1364" y="2984.5">关于学校放寒假通知篇4</text></g>
<g id="n-m1" class="m"><rect x="1563" y="2398" width="263" height="95"/><text x="1571" y="2417.5"><tspan x="1571">为维护正常教育教学秩序，抓紧抓实疫情防控</tspan><tspan x="1571" dy="16.2">和校园安全各项工作，周密做好假期工作安排</tspan><tspan x="1571" dy="16.2">，确保广大师生过一个安全、祥和的假期，1</tspan><tspan x="1571" dy="16.2">6日，市教育局印发《关于2022—2023学年</tspan><tspan x="1571" dy="16.2">度全市中小学放寒假的通知》。</tspan></text></g>
<g id="n-m2" class="m"><rect x="1563" y="2518" width="263" height="62"/><text x="1571" y="2537.5"><tspan x="1571">寒假从什么时候开始?放假期间要注意哪些事</tspan><tspan x="1571" dy="16.2">项?对于广大师生家长关心的热点问题，树图</tspan><tspan x="1571" dy="16.2">网这就来为大家划重点解答!</tspan></text></g>
<g id="n-m3" class="m"><rect x="1563" y="2721" width="139" height="29"/><text x="1571" y="2740">一、放寒假和开学时间</text></g>
<g id="n-m3a" class="m"><rect x="1724" y="2605" width="263" height="143"/><text x="1732" y="2624.5"><tspan x="1732">根据《潮州市2022—2023学年度普通中小学</tspan><tspan x="1732" dy="16.2">校校历》《潮州市2022—2023学年度中等职</tspan><tspan x="1732" dy="16.2">业学校校历》的有关规定，2022—2023学年</tspan><tspan x="1732" dy="16.2">度第一学期，义务教育阶段学校及中等职业学</tspan><tspan x="1732" dy="16.2">校于2023年1月8日开始放寒假;普通高中于20</tspan><tspan x="1732" dy="16.2">23年1月15日开始放寒假。幼儿园可参照义务</tspan><tspan x="1732" dy="16.2">教育学校时间安排放假或根据实际情况自行确</tspan><tspan x="1732" dy="16.2">定放假时间，具体由幼儿园与办园单位商定。</tspan></text></g>
<g id="n-m3b" class="m"><rect x="1724" y="2772" width="263" height="46"/><text x="1732" y="2791.5"><tspan x="1732">全市普通中小学校、中等职业学校和幼儿园春</tspan><tspan x="1732" dy="16.2">季新学期开学时间统一为2023年2月6日。</tspan></text></g>
<g id="n-m4" class="m"><rect x="1563" y="2900" width="263" height="46"/><text x="1571" y="2919.5"><tspan x="1571">二、周密部署，多措并举，抓好抓实期末期初</tspan><tspan x="1571" dy="16.2">计划</tspan></text></g>
<g id="n-m4a" class="m"><rect x="1850" y="2843" width="262" height="159"/><text x="1858" y="2862.5"><tspan x="1858">各学校在放假前必须按课程计划完成本学期的</tspan><tspan x="1858" dy="16.2">教育教学任务，合理安排期末复习、考试时间</tspan><tspan x="1858" dy="16.2">，认真做好综合素质评定和各项总结工作。各</tspan><tspan x="1858" dy="16.2">县(区)各学校要妥善做好期末考试的准备工作</tspan><tspan x="1858" dy="16.2">，确保考试安全平稳顺利。本学期，各义务教</tspan><tspan x="1858" dy="16.2">育阶段学校的期末考试一般应在元旦前完成。</tspan><tspan x="1858" dy="16.2">同时，各县(区)各学校要提早谋划好下学期各</tspan><tspan x="1858" dy="16.2">项教育教学活动和校园疫情防控工作，精心筹</tspan><tspan x="1858" dy="16.2">备，确保新学期如期、顺利开学。</tspan></text></g>
<g id="n-m5" class="m"><rect x="1563" y="3109" width="250" height="29"/><text x="1571" y="3128">三、强化教育引导，毫不放松落实个人防护</text></g>
<g id="n-m5a" class="m"><rect x="1836" y="3027" width="263" height="192"/><text x="1844" y="3046.5"><tspan x="1844">放假前，各学校要组织召开一次主题班会,开</tspan><tspan x="1844" dy="16.2">展疫情防控知识教育,教育师生在假期养成良</tspan><tspan x="1844" dy="16.2">好卫生习惯，落实个人防护，自觉养成戴口罩</tspan><tspan x="1844" dy="16.2">、勤洗手、常通风、用公筷、"一米线"等习惯</tspan><tspan x="1844" dy="16.2">，引导学生在假期科学合理安排好作息时间,</tspan><tspan x="1844" dy="16.2">保证充足睡眠;加强体育锻炼，增强个人体质</tspan><tspan x="1844" dy="16.2">，提高抵抗能力;时刻关注自身健康状况，尽</tspan><tspan x="1844" dy="16.2">可能避免与有呼吸道感染症状(如发热、咳嗽</tspan><tspan x="1844" dy="16.2">或打喷嚏、流鼻涕等)人员的密切接触。如果</tspan><tspan x="1844" dy="16.2">出现发热、干咳等新冠疫情疑似症状，应尽量</tspan><tspan x="1844" dy="16.2">避免接触他人，佩戴好口罩科学规范就医。</tspan></text></g>
<g id="n-m6" class="m"><rect x="1563" y="3307" width="263" height="29"/><text x="1571" y="3326">四、强化安全教育，不断提高防范意识和能力</text></g>
<g id="n-m6a" class="m"><rect x="1848" y="3243" width="263" height="159"/><text x="1856" y="3262.5"><tspan x="1856">各学校要通过安全主题课等形式对学生进行安</tspan><tspan x="1856" dy="16.2">全知识教育和普及，重点开展防煤气中毒、防</tspan><tspan x="1856" dy="16.2">食物中毒、防欺凌暴力、防网络诈骗、防交通</tspan><tspan x="1856" dy="16.2">事故、防火防电等方面安全和防范常识的教育</tspan><tspan x="1856" dy="16.2">，不断提高学生安全意识和自我防护能力。要</tspan><tspan x="1856" dy="16.2">以"致学生家长(或监护人)一封信"的形式，引</tspan><tspan x="1856" dy="16.2">导家长加强对子女的安全教育，履行监护责任</tspan><tspan x="1856" dy="16.2">，并建立家校沟通机制，督促家长做好孩子在</tspan><tspan x="1856" dy="16.2">寒假期间的安全管理和学习指导工作。</tspan></text></g>
<g id="n-m7" class="m"><rect x="1563" y="3499" width="250" height="29"/><text x="1571" y="3518">五、强化减负增效，科学合理安排假期生活</text></g>
<g id="n-m7a" class="m"><rect x="1836" y="3426" width="263" height="176"/><text x="1844" y="3445.5"><tspan x="1844">各学校要认真贯彻落实"双减"、五项管理相关</tspan><tspan x="1844" dy="16.2">规定，合理控制学生假期作业总量，确保学生</tspan><tspan x="1844" dy="16.2">假期有足够的休息时间，切实减轻中小学生过</tspan><tspan x="1844" dy="16.2">重学业负担。要将体育、美育、劳动一并纳入</tspan><tspan x="1844" dy="16.2">寒假作业内容，积极探索布置实践性作业和探</tspan><tspan x="1844" dy="16.2">究性作业，切实减少重复性、机械性作业。学</tspan><tspan x="1844" dy="16.2">校不得组织学生集体上课或以补差、培优等形</tspan><tspan x="1844" dy="16.2">式变相集体上课，不得动员和组织学生参加社</tspan><tspan x="1844" dy="16.2">会上各类培训班或补习班。所有中小学教师一</tspan><tspan x="1844" dy="16.2">律不准从事各种形式的有偿家教。</tspan></text></g>
</svg>
